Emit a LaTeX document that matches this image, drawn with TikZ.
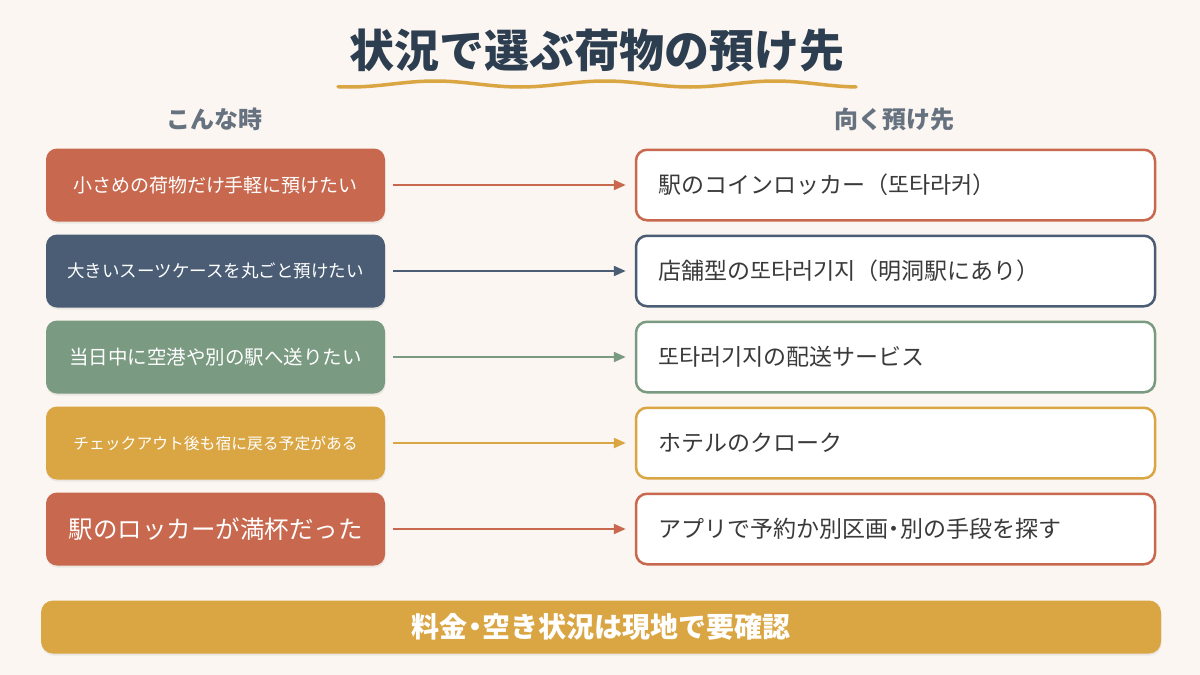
\documentclass[tikz,border=0pt]{standalone}
\usepackage{fontspec}
\setmainfont{Noto Sans CJK JP}
\usetikzlibrary{arrows.meta,shadows}
\definecolor{bg}{HTML}{FBF6F1}
\definecolor{terra}{HTML}{C8694F}
\definecolor{slate}{HTML}{4A5D74}
\definecolor{sage}{HTML}{7A9A82}
\definecolor{gold}{HTML}{DAA543}
\definecolor{titlec}{HTML}{2C3E50}
\definecolor{headc}{HTML}{66727F}
\definecolor{bodyc}{HTML}{3A3A3A}
\newcommand{\ndot}{\hspace{-0.22em}・\hspace{-0.22em}}
\tikzset{
  lbox/.style={rectangle, rounded corners=11pt, fill=#1, text=white,
    minimum width=339pt, minimum height=73pt, inner sep=0pt,
    drop shadow={opacity=0.13, shadow xshift=0.5pt, shadow yshift=-2pt}},
  rbox/.style={rectangle, rounded corners=11pt, draw=#1, line width=2.5pt, fill=white,
    minimum width=518.5pt, minimum height=70.5pt, inner xsep=22pt,
    text width=475pt, align=left, text=bodyc,
    font=\fontsize{23}{27}\selectfont},
  arr/.style={draw=#1, line width=2.2pt, -{Triangle[length=12pt,width=10pt]}},
  head/.style={text=headc, font=\bfseries\fontsize{24}{28}\selectfont},
}
\begin{document}
\begin{tikzpicture}[x=1pt,y=-1pt]
\useasboundingbox (0,0) rectangle (1200,675);
\fill[bg] (0,0) rectangle (1200,675);

\node[text=titlec, font=\bfseries\fontsize{45}{50}\selectfont] (title) at (597,50) {状況で選ぶ荷物の預け先};
\draw[gold, line width=3.5pt, line cap=round]
  plot[domain=338:856, samples=120, smooth] (\x, {84+3*cos((\x-350)/170*360)});

\node[head] (hl) at (214,119) {こんな時};
\node[head] (hr) at (894,119) {向く預け先};

\node[lbox=terra, font=\fontsize{19}{23}\selectfont] (L1) at (215.5,185) {小さめの荷物だけ手軽に預けたい};
\node[lbox=slate, font=\fontsize{17.5}{21}\selectfont] (L2) at (215.5,271) {大きいスーツケースを丸ごと預けたい};
\node[lbox=sage, font=\fontsize{19.5}{23}\selectfont] (L3) at (215.5,357) {当日中に空港や別の駅へ送りたい};
\node[lbox=gold, font=\fontsize{15.8}{19}\selectfont] (L4) at (215.5,443) {チェックアウト後も宿に戻る予定がある};
\node[lbox=terra, font=\fontsize{24.5}{29}\selectfont] (L5) at (215.5,529) {駅のロッカーが満杯だった};

\node[rbox=terra] (R1) at (895.5,185) {駅のコインロッカー（또타라커）};
\node[rbox=slate] (R2) at (895.5,271) {店舗型の또타러기지（明洞駅にあり）};
\node[rbox=sage] (R3) at (895.5,357) {또타러기지の配送サービス};
\node[rbox=gold] (R4) at (895.5,443) {ホテルのクローク};
\node[rbox=terra] (R5) at (895.5,529) {アプリで予約か別区画\ndot 別の手段を探す};

\draw[arr=terra] ([xshift=8pt]L1.east) -- ([xshift=-9pt]R1.west);
\draw[arr=slate] ([xshift=8pt]L2.east) -- ([xshift=-9pt]R2.west);
\draw[arr=sage] ([xshift=8pt]L3.east) -- ([xshift=-9pt]R3.west);
\draw[arr=gold] ([xshift=8pt]L4.east) -- ([xshift=-9pt]R4.west);
\draw[arr=terra] ([xshift=8pt]L5.east) -- ([xshift=-9pt]R5.west);

\node[rectangle, rounded corners=12pt, fill=gold, minimum width=1120pt, minimum height=53pt,
  text=white, font=\bfseries\fontsize{28}{32}\selectfont,
  drop shadow={opacity=0.13, shadow xshift=0.5pt, shadow yshift=-2pt}] (note) at (601,627) {料金\ndot 空き状況は現地で要確認};
\end{tikzpicture}
\end{document}
